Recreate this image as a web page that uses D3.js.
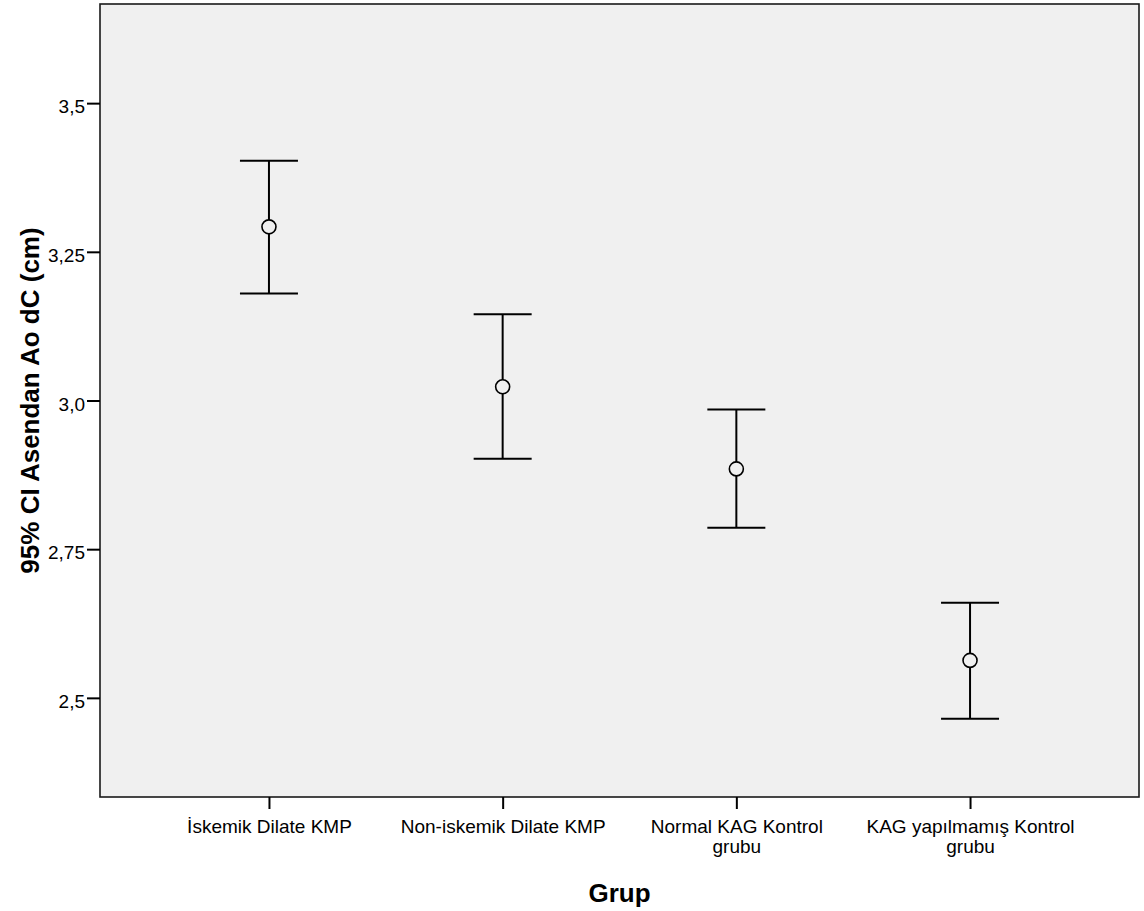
<!DOCTYPE html>
<html>
<head>
<meta charset="utf-8">
<script src="https://cdn.jsdelivr.net/npm/d3@7"></script>
<style>
  html, body { margin: 0; padding: 0; background: #fff; }
  svg { display: block; }
  text { font-family: "Liberation Sans", Arial, sans-serif; fill: #000; }
</style>
</head>
<body>
<svg id="chart" width="1144" height="911"></svg>
<script>
// Group labels (each entry is a list of lines)
const groups = [
  ["İskemik Dilate KMP"],
  ["Non-iskemik Dilate KMP"],
  ["Normal KAG Kontrol", "grubu"],
  ["KAG yapılmamış Kontrol", "grubu"]
];
// Group means and 95% confidence limits
const means = [3.292, 3.023, 2.885, 2.563];
const lower = [3.180, 2.902, 2.786, 2.465];
const upper = [3.403, 3.145, 2.985, 2.660];
// Y-axis ticks and labels
const yTicks = [2.5, 2.75, 3.0, 3.25, 3.5];
const yTickLabels = ["2,5", "2,75", "3,0", "3,25", "3,5"];
const yTitle = "95% CI Asendan Ao dC (cm)";
const xTitle = "Grup";

const svg = d3.select("#chart");
const plot = { left: 100, top: 4, right: 1139, bottom: 797 };
const bg = "#f0f0f0";

const x = d3.scalePoint()
  .domain(d3.range(groups.length))
  .range([plot.left, plot.right])
  .padding(0.723);

const y = d3.scaleLinear()
  .domain([2.3333, 3.6667])
  .range([plot.bottom, plot.top]);

// Plot background
svg.append("rect")
  .attr("x", plot.left).attr("y", plot.top)
  .attr("width", plot.right - plot.left)
  .attr("height", plot.bottom - plot.top)
  .attr("fill", bg)
  .attr("stroke", "#1a1a1a")
  .attr("stroke-width", 1.6);

// Y axis
const yAxis = d3.axisLeft(y)
  .tickValues(yTicks)
  .tickSize(13)
  .tickPadding(2)
  .tickFormat((d, i) => yTickLabels[i]);
const gy = svg.append("g")
  .attr("transform", `translate(${plot.left},0)`)
  .call(yAxis);
gy.select(".domain").remove();
gy.selectAll(".tick line").attr("stroke", "#000").attr("stroke-width", 2);
gy.selectAll(".tick text")
  .attr("font-size", 19)
  .attr("dy", "0.5em")
  .style("font-family", '"Liberation Sans", Arial, sans-serif');

// X axis
const xAxis = d3.axisBottom(x).tickSize(12).tickFormat(() => "");
const gx = svg.append("g")
  .attr("transform", `translate(0,${plot.bottom})`)
  .call(xAxis);
gx.select(".domain").remove();
gx.selectAll(".tick line").attr("stroke", "#000").attr("stroke-width", 2);
gx.selectAll(".tick text").remove();
gx.selectAll(".tick").each(function(d) {
  const t = d3.select(this).append("text")
    .attr("text-anchor", "middle")
    .attr("font-size", 19);
  groups[d].forEach((line, k) => {
    t.append("tspan")
      .attr("x", 0)
      .attr("y", 36 + k * 20)
      .text(line);
  });
});

// Axis titles
svg.append("text")
  .attr("transform", `translate(39,${(plot.top + plot.bottom) / 2}) rotate(-90)`)
  .attr("text-anchor", "middle")
  .attr("font-size", 26)
  .attr("font-weight", "bold")
  .text(yTitle);

svg.append("text")
  .attr("x", (plot.left + plot.right) / 2)
  .attr("y", 902)
  .attr("text-anchor", "middle")
  .attr("font-size", 26)
  .attr("font-weight", "bold")
  .text(xTitle);

// Error bars
const capHalf = 29;
const bars = svg.append("g")
  .selectAll("g")
  .data(means.map((m, i) => ({ i, m, lo: lower[i], hi: upper[i] })))
  .join("g");

bars.append("line")
  .attr("x1", d => x(d.i)).attr("x2", d => x(d.i))
  .attr("y1", d => y(d.hi)).attr("y2", d => y(d.lo))
  .attr("stroke", "#000").attr("stroke-width", 2);
bars.append("line")
  .attr("x1", d => x(d.i) - capHalf).attr("x2", d => x(d.i) + capHalf)
  .attr("y1", d => y(d.hi)).attr("y2", d => y(d.hi))
  .attr("stroke", "#000").attr("stroke-width", 2);
bars.append("line")
  .attr("x1", d => x(d.i) - capHalf).attr("x2", d => x(d.i) + capHalf)
  .attr("y1", d => y(d.lo)).attr("y2", d => y(d.lo))
  .attr("stroke", "#000").attr("stroke-width", 2);
bars.append("circle")
  .attr("cx", d => x(d.i))
  .attr("cy", d => y(d.m))
  .attr("r", 7)
  .attr("fill", bg)
  .attr("stroke", "#000")
  .attr("stroke-width", 1.6);
</script>
</body>
</html>
